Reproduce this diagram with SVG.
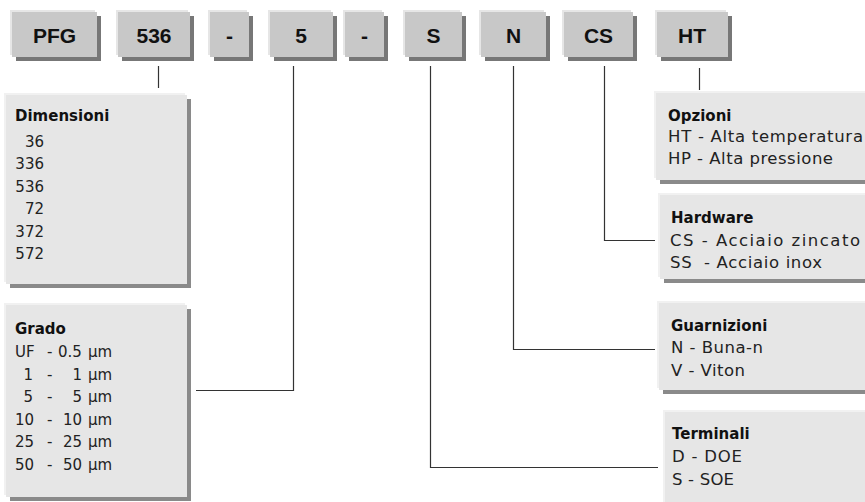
<svg xmlns="http://www.w3.org/2000/svg" width="865" height="502" viewBox="0 0 865 502">
<style>
  .thl{fill:#e6e6e6}
  .tsh{fill:#777777}
  .tbox{fill:#c8c8c8}
  .ihl{fill:#f1f1f1}
  .ish{fill:#8a8a8a}
  .ibox{fill:#e6e6e6}
  .tt{font-family:"Liberation Sans",Arial,sans-serif;font-weight:bold;font-size:21px;fill:#111;text-anchor:middle}
  .h{font-family:"DejaVu Sans",Verdana,sans-serif;font-weight:bold;font-size:15px;fill:#111}
  .r{font-family:"DejaVu Sans",Verdana,sans-serif;font-size:15px;fill:#222}
  .rr{font-family:"DejaVu Sans",Verdana,sans-serif;font-size:16.5px;fill:#222}
  .num{text-anchor:end}
  .conn{fill:none;stroke:#333;stroke-width:1.2}
</style>
<rect width="865" height="502" fill="#fff"/>

<g id="code-pfg">
  <rect class="thl" x="10" y="10" width="85" height="45"/>
  <rect class="tsh" x="16" y="16" width="85" height="45"/>
  <rect class="tbox" x="12" y="12" width="85" height="45"/>
  <text class="tt" x="54.5" y="43">PFG</text>
</g>
<g id="code-536">
  <rect class="thl" x="116" y="10" width="72" height="45"/>
  <rect class="tsh" x="122" y="16" width="72" height="45"/>
  <rect class="tbox" x="118" y="12" width="72" height="45"/>
  <text class="tt" x="154" y="43">536</text>
</g>
<g id="code-dash1">
  <rect class="thl" x="208" y="10" width="39" height="45"/>
  <rect class="tsh" x="214" y="16" width="39" height="45"/>
  <rect class="tbox" x="210" y="12" width="39" height="45"/>
  <text class="tt" x="229.5" y="43">-</text>
</g>
<g id="code-5">
  <rect class="thl" x="268" y="10" width="63" height="45"/>
  <rect class="tsh" x="274" y="16" width="63" height="45"/>
  <rect class="tbox" x="270" y="12" width="63" height="45"/>
  <text class="tt" x="301" y="43">5</text>
</g>
<g id="code-dash2">
  <rect class="thl" x="343" y="10" width="39" height="45"/>
  <rect class="tsh" x="349" y="16" width="39" height="45"/>
  <rect class="tbox" x="345" y="12" width="39" height="45"/>
  <text class="tt" x="364.5" y="43">-</text>
</g>
<g id="code-s">
  <rect class="thl" x="403" y="10" width="57" height="45"/>
  <rect class="tsh" x="409" y="16" width="57" height="45"/>
  <rect class="tbox" x="405" y="12" width="57" height="45"/>
  <text class="tt" x="433.5" y="43">S</text>
</g>
<g id="code-n">
  <rect class="thl" x="479" y="10" width="65" height="45"/>
  <rect class="tsh" x="485" y="16" width="65" height="45"/>
  <rect class="tbox" x="481" y="12" width="65" height="45"/>
  <text class="tt" x="513.5" y="43">N</text>
</g>
<g id="code-cs">
  <rect class="thl" x="562" y="10" width="69" height="45"/>
  <rect class="tsh" x="568" y="16" width="69" height="45"/>
  <rect class="tbox" x="564" y="12" width="69" height="45"/>
  <text class="tt" x="598.5" y="43">CS</text>
</g>
<g id="code-ht">
  <rect class="thl" x="655" y="10" width="71" height="45"/>
  <rect class="tsh" x="661" y="16" width="71" height="45"/>
  <rect class="tbox" x="657" y="12" width="71" height="45"/>
  <text class="tt" x="692" y="43">HT</text>
</g>

<g id="connectors">
  <line class="conn" x1="158.5" y1="66" x2="158.5" y2="88"/>
  <polyline class="conn" points="293.5,66 293.5,390.5 196,390.5"/>
  <polyline class="conn" points="430.5,66 430.5,467.5 658,467.5"/>
  <polyline class="conn" points="513.5,66 513.5,349.5 655,349.5"/>
  <polyline class="conn" points="604.5,66 604.5,240.5 655,240.5"/>
  <line class="conn" x1="699.5" y1="68" x2="699.5" y2="90"/>
</g>

<g id="dimensioni">
  <rect class="ihl" x="4" y="93" width="181" height="189"/>
  <rect class="ish" x="10" y="99" width="181" height="189"/>
  <rect class="ibox" x="6" y="95" width="181" height="189"/>
  <text class="h" x="15" y="121">Dimensioni</text>
  <text class="r num" x="44" y="147">36</text>
  <text class="r num" x="44" y="169">336</text>
  <text class="r num" x="44" y="192">536</text>
  <text class="r num" x="44" y="214">72</text>
  <text class="r num" x="44" y="237">372</text>
  <text class="r num" x="44" y="259">572</text>
</g>

<g id="grado">
  <rect class="ihl" x="4" y="303" width="181" height="192"/>
  <rect class="ish" x="10" y="309" width="181" height="192"/>
  <rect class="ibox" x="6" y="305" width="181" height="192"/>
  <text class="h" x="15" y="334">Grado</text>
  <text class="r" y="357"><tspan x="15">UF</tspan> <tspan x="47">-</tspan> <tspan x="58">0.5</tspan> <tspan x="88">µm</tspan></text>
  <text class="r" y="380"><tspan x="23.5">1</tspan> <tspan x="47">-</tspan> <tspan x="72.5">1</tspan> <tspan x="88">µm</tspan></text>
  <text class="r" y="402"><tspan x="23.5">5</tspan> <tspan x="47">-</tspan> <tspan x="72.5">5</tspan> <tspan x="88">µm</tspan></text>
  <text class="r" y="425"><tspan x="15">10</tspan> <tspan x="47">-</tspan> <tspan x="63">10</tspan> <tspan x="88">µm</tspan></text>
  <text class="r" y="447"><tspan x="15">25</tspan> <tspan x="47">-</tspan> <tspan x="63">25</tspan> <tspan x="88">µm</tspan></text>
  <text class="r" y="470"><tspan x="15">50</tspan> <tspan x="47">-</tspan> <tspan x="63">50</tspan> <tspan x="88">µm</tspan></text>
</g>

<g id="opzioni">
  <rect class="ihl" x="654" y="91" width="220" height="87"/>
  <rect class="ish" x="660" y="97" width="220" height="87"/>
  <rect class="ibox" x="656" y="93" width="220" height="87"/>
  <text class="h" x="668" y="121">Opzioni</text>
  <text class="rr" x="668" y="142" textLength="195" lengthAdjust="spacing">HT - Alta temperatura</text>
  <text class="rr" x="668" y="164" textLength="165" lengthAdjust="spacing">HP - Alta pressione</text>
</g>

<g id="hardware">
  <rect class="ihl" x="658" y="193" width="220" height="84"/>
  <rect class="ish" x="664" y="199" width="220" height="84"/>
  <rect class="ibox" x="660" y="195" width="220" height="84"/>
  <text class="h" x="671" y="223">Hardware</text>
  <text class="rr" x="670" y="246" textLength="190" lengthAdjust="spacing">CS - Acciaio zincato</text>
  <text class="rr" x="670" y="268" xml:space="preserve" textLength="152" lengthAdjust="spacing">SS  - Acciaio inox</text>
</g>

<g id="guarnizioni">
  <rect class="ihl" x="657" y="301" width="220" height="87"/>
  <rect class="ish" x="663" y="307" width="220" height="87"/>
  <rect class="ibox" x="659" y="303" width="220" height="87"/>
  <text class="h" x="671" y="331">Guarnizioni</text>
  <text class="rr" x="671" y="353" textLength="92" lengthAdjust="spacing">N - Buna-n</text>
  <text class="rr" x="671" y="376" textLength="74" lengthAdjust="spacing">V - Viton</text>
</g>

<g id="terminali">
  <rect class="ihl" x="663" y="410" width="220" height="100"/>
  <rect class="ish" x="669" y="416" width="220" height="100"/>
  <rect class="ibox" x="665" y="412" width="220" height="100"/>
  <text class="h" x="672" y="439">Terminali</text>
  <text class="rr" x="672" y="462" textLength="70" lengthAdjust="spacing">D - DOE</text>
  <text class="rr" x="672" y="485" textLength="62" lengthAdjust="spacing">S - SOE</text>
</g>
</svg>
